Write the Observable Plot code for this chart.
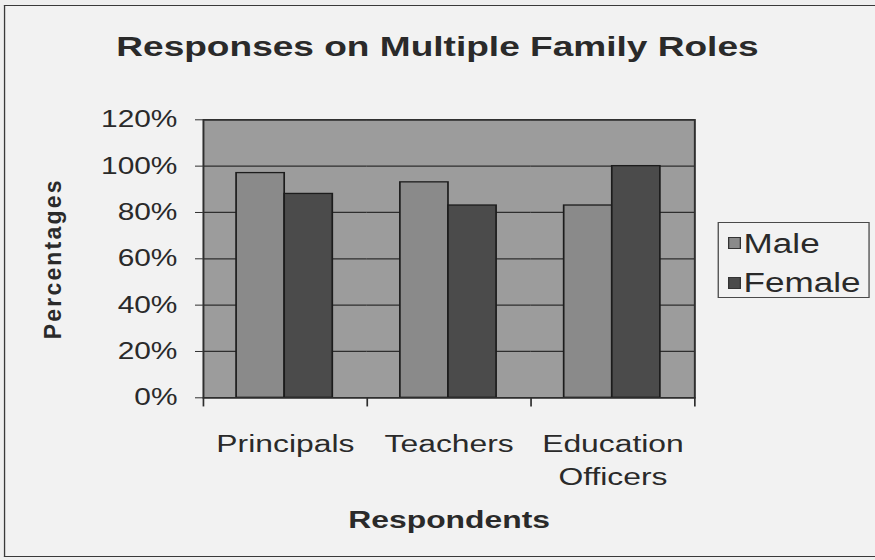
<!DOCTYPE html>
<html>
<head>
<meta charset="utf-8">
<script src="https://cdn.jsdelivr.net/npm/d3@7"></script>
<script src="https://cdn.jsdelivr.net/npm/@observablehq/plot@0.6"></script>
<style>
  html, body { margin: 0; padding: 0; background: #efefef; overflow: hidden; }
  #page { position: relative; width: 875px; height: 560px; overflow: hidden; background: #efefef; }
  #stretch { position: absolute; left: 0; top: 0; width: 673px; height: 560px;
    transform: scaleX(1.3); transform-origin: 0 0;
    font-family: "Liberation Sans", Arial, sans-serif; color: #2a2a2a; }
  #box { position: absolute; left: 2.6px; top: 5px; width: 900px; height: 550px;
    border: 1.5px solid #3a3a3a; border-right: none; background: #f2f2f2; }
  #title { position: absolute; left: 0; width: 673px; top: 32px; text-align: center;
    font-weight: bold; font-size: 28.5px; line-height: 1; white-space: nowrap; }
  #chart { position: absolute; left: 0; top: 100px; }
  #legend { position: absolute; left: 551.5px; top: 222px; width: 115px; height: 74px;
    border: 1px solid #4a4a4a; background: #f2f2f2; }
  .sw { position: absolute; left: 7px; width: 10.5px; height: 12px; border: 1px solid #333; box-sizing: border-box; }
  .lab { position: absolute; left: 19.5px; font-size: 27px; line-height: 1; white-space: nowrap; }
  [aria-label="fx-axis label"] { font-weight: bold; }
  [aria-label="y-axis label"] text { font-weight: bold; font-size: 23px; letter-spacing: 2.2px; }
</style>
</head>
<body>
<div id="page">
  <div id="stretch">
    <div id="box"></div>
    <div id="title"></div>
    <div id="chart"></div>
    <div id="legend"></div>
  </div>
</div>
<script>
// ---- data ----
const chartTitle = "Responses on Multiple Family Roles";
const categories = ["Principals", "Teachers", "Education Officers"];
const series = ["Male", "Female"];
const maleValues = [0.97, 0.93, 0.83];
const femaleValues = [0.88, 0.83, 1.00];
const yTicks = [0, 0.2, 0.4, 0.6, 0.8, 1.0, 1.2];
const seriesColors = ["#8a8a8a", "#4b4b4b"];
const xTitle = "Respondents";
const yTitle = "Percentages";

const valuesBySeries = {Male: maleValues, Female: femaleValues};
const rows = categories.flatMap((c, i) =>
  series.map(s => ({category: c, sex: s, value: valuesBySeries[s][i]})));

document.getElementById("title").textContent = chartTitle;

const plot = Plot.plot({
  width: 545,
  height: 450,
  marginLeft: 155.4,
  marginRight: 9.6,
  marginTop: 19.3,
  marginBottom: 152.7,
  style: {fontFamily: '"Liberation Sans", Arial, sans-serif', color: "#2a2a2a", background: "transparent", overflow: "visible"},
  fx: {domain: categories, padding: 0},
  x: {domain: series, paddingInner: 0, paddingOuter: 0.7, axis: null},
  y: {domain: [0, 1.2]},
  color: {domain: series, range: seriesColors},
  marks: [
    Plot.frame({facet: "super", fill: "#9c9c9c", stroke: null}),
    Plot.gridY(yTicks, {stroke: "#2e2e2e", strokeOpacity: 1, strokeWidth: 1.3}),
    Plot.barY(rows, {fx: "category", x: "sex", y: "value", fill: "sex", stroke: "#1c1c1c", strokeWidth: 1.3}),
    Plot.frame({facet: "super", stroke: "#2e2e2e", strokeWidth: 1.5}),
    Plot.frame({anchor: "left", stroke: "#2e2e2e", strokeWidth: 1.3, insetTop: 278, insetBottom: -8}),
    Plot.frame({facet: "super", anchor: "right", stroke: "#2e2e2e", strokeWidth: 1.3, insetTop: 278, insetBottom: -8}),
    Plot.axisY(yTicks, {
      tickFormat: d3.format(".0%"), tickSize: 6, tickPadding: 14, fontSize: 23,
      stroke: "#2e2e2e", label: yTitle, labelArrow: "none", labelAnchor: "center", labelOffset: 122
    }),
    Plot.axisFx({
      anchor: "bottom", tickSize: 0, tickPadding: 31, fontSize: 24.5, lineHeight: 1.33,
      tickFormat: d => d.split(" ").join("\n"),
      label: xTitle, labelAnchor: "center", labelOffset: 130
    })
  ]
});
document.getElementById("chart").appendChild(plot);

// the page is widened by a horizontal scale; keep the vertical title's glyphs unstretched
plot.querySelectorAll('[aria-label="y-axis label"] text').forEach(t => {
  const tr = t.getAttribute("transform") || "";
  if (tr.includes("rotate")) t.setAttribute("transform", tr + " scale(1, 0.77)");
});

// legend built from the series names and colours
const legend = document.getElementById("legend");
const swatchTops = [14, 54];
const labelTops = [8, 47];
series.forEach((s, i) => {
  const sw = document.createElement("div");
  sw.className = "sw";
  sw.style.top = swatchTops[i] + "px";
  sw.style.background = seriesColors[i];
  legend.appendChild(sw);
  const lab = document.createElement("div");
  lab.className = "lab";
  lab.style.top = labelTops[i] + "px";
  lab.textContent = s;
  legend.appendChild(lab);
});
</script>
</body>
</html>
